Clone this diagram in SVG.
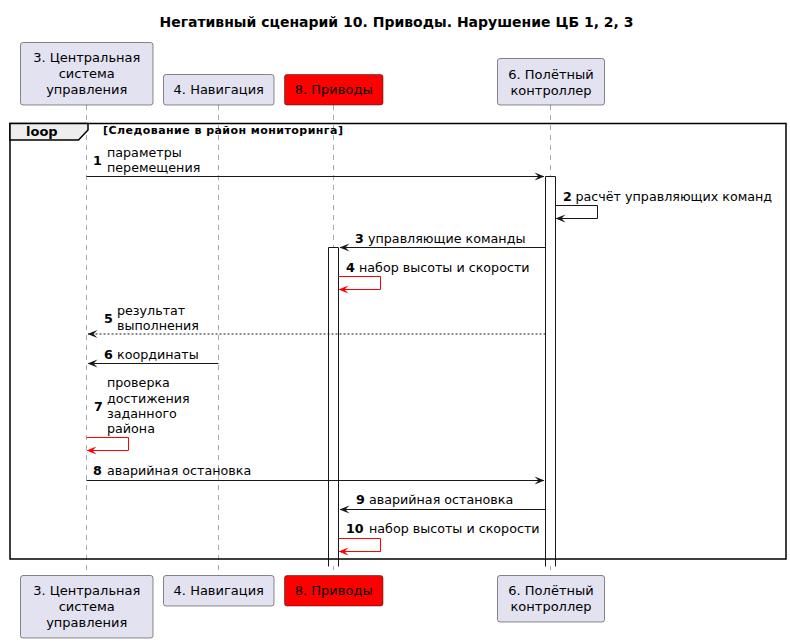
<svg xmlns="http://www.w3.org/2000/svg" width="790" height="643" viewBox="0 0 790 643">
<style>
text{font-family:"DejaVu Sans","Liberation Sans",sans-serif;font-size:13px;fill:#000}
.t{font-size:14px;font-weight:bold}
.n{font-weight:bold}
.ms{font-size:12.7px}
.c{text-anchor:middle}
.p{fill:#E2E2F0;stroke:#181818;stroke-width:0.5}
.r{fill:#FF0000;stroke:#181818;stroke-width:0.5}
.ll{stroke:#555;stroke-width:0.5;stroke-dasharray:5,5;fill:none}
.act{fill:#fff;stroke:none}
.al{stroke:#181818;stroke-width:1;fill:none}
.m{stroke:#181818;stroke-width:1;fill:none}
.mr{stroke:#FF0000;stroke-width:1;fill:none}
.d{stroke-dasharray:2,2}
.ah{fill:#181818}
.ahr{fill:#FF0000}
</style>
<rect width="790" height="643" fill="#fff"/>
<text class="t c" x="396.5" y="27">Негативный сценарий 10. Приводы. Нарушение ЦБ 1, 2, 3</text>

<g id="lifelines">
<line class="ll" x1="86.5" y1="105" x2="86.5" y2="576"/>
<line class="ll" x1="218.5" y1="105" x2="218.5" y2="576"/>
<line class="ll" x1="333.5" y1="105" x2="333.5" y2="576"/>
<line class="ll" x1="550.5" y1="105" x2="550.5" y2="576"/>
</g>

<g id="activations">
<rect class="act" x="545.5" y="176" width="10" height="390"/>
<polyline class="al" points="545.5,566.5 545.5,176.5 555.5,176.5 555.5,566.5"/>
<rect class="act" x="328.5" y="247" width="10" height="319"/>
<polyline class="al" points="328.5,566.5 328.5,247.5 338.5,247.5 338.5,566.5"/>
</g>

<g id="loop">
<rect x="10" y="123.5" width="776" height="435.5" fill="none" stroke="#000" stroke-width="1.5"/>
<polygon points="10,123.5 88,123.5 88,130 78.5,140 10,140" fill="#EEEEEE" stroke="#000" stroke-width="1.5"/>
<text class="n" x="26" y="136">loop</text>
<text class="n" x="103" y="134" style="font-size:11px;letter-spacing:0.45px">[Следование в район мониторинга]</text>
</g>

<g id="p1">
<rect class="p" x="20.5" y="42.5" width="132.5" height="62.5" rx="2.5"/>
<text class="c" x="86.75" y="62">3. Центральная</text>
<text class="c" x="86.75" y="78">система</text>
<text class="c" x="86.75" y="94">управления</text>
</g>
<g id="p2">
<rect class="p" x="163.5" y="74.5" width="110.5" height="30.5" rx="2.5"/>
<text class="c" x="218.75" y="94">4. Навигация</text>
</g>
<g id="p3">
<rect class="r" x="284.5" y="74.5" width="98.5" height="30.5" rx="2.5"/>
<text class="c" x="333.75" y="94">8. Приводы</text>
</g>
<g id="p4">
<rect class="p" x="497.5" y="58.5" width="107" height="46.5" rx="2.5"/>
<text class="c" x="551" y="79">6. Полётный</text>
<text class="c" x="551" y="95">контроллер</text>
</g>

<g id="p1b">
<rect class="p" x="20.5" y="575.5" width="132.5" height="62.5" rx="2.5"/>
<text class="c" x="86.75" y="595">3. Центральная</text>
<text class="c" x="86.75" y="611">система</text>
<text class="c" x="86.75" y="627">управления</text>
</g>
<g id="p2b">
<rect class="p" x="163.5" y="575.5" width="110.5" height="30.5" rx="2.5"/>
<text class="c" x="218.75" y="595">4. Навигация</text>
</g>
<g id="p3b">
<rect class="r" x="284.5" y="575.5" width="98.5" height="30.5" rx="2.5"/>
<text class="c" x="333.75" y="595">8. Приводы</text>
</g>
<g id="p4b">
<rect class="p" x="497.5" y="575.5" width="107" height="46.5" rx="2.5"/>
<text class="c" x="551" y="595">6. Полётный</text>
<text class="c" x="551" y="611">контроллер</text>
</g>

<g id="connectors">
<!-- 1 -->
<line class="m" x1="86.5" y1="176.5" x2="544" y2="176.5"/>
<polygon class="ah" points="544.5,176.5 534.5,172.5 538.5,176.5 534.5,180.5"/>
<text class="n ms" x="93" y="164.5">1</text>
<text class="ms" x="107" y="156.5">параметры</text>
<text class="ms" x="107" y="172">перемещения</text>
<!-- 2 -->
<polyline class="m" points="555.5,205.5 597.5,205.5 597.5,218.5 556.5,218.5"/>
<polygon class="ah" points="555.5,218.5 565.5,214.5 561.5,218.5 565.5,222.5"/>
<text class="n ms" x="563" y="201">2</text>
<text class="ms" x="575.5" y="201">расчёт управляющих команд</text>
<!-- 3 -->
<line class="m" x1="545.5" y1="247.5" x2="340" y2="247.5"/>
<polygon class="ah" points="339.5,247.5 349.5,243.5 345.5,247.5 349.5,251.5"/>
<text class="n ms" x="355" y="243">3</text>
<text class="ms" x="368" y="243">управляющие команды</text>
<!-- 4 -->
<polyline class="mr" points="338.5,276.5 380.5,276.5 380.5,289.5 339.5,289.5"/>
<polygon class="ahr" points="338.5,289.5 348.5,285.5 344.5,289.5 348.5,293.5"/>
<text class="n ms" x="346" y="272">4</text>
<text class="ms" x="359" y="272">набор высоты и скорости</text>
<!-- 5 -->
<line class="m d" x1="545.5" y1="334" x2="88" y2="334"/>
<polygon class="ah" points="87.5,334 97.5,330 93.5,334 97.5,338"/>
<text class="n ms" x="104" y="322.5">5</text>
<text class="ms" x="117" y="314.5">результат</text>
<text class="ms" x="117" y="330">выполнения</text>
<!-- 6 -->
<line class="m" x1="218.5" y1="363.5" x2="88" y2="363.5"/>
<polygon class="ah" points="87.5,363.5 97.5,359.5 93.5,363.5 97.5,367.5"/>
<text class="n ms" x="104" y="359">6</text>
<text class="ms" x="117" y="359">координаты</text>
<!-- 7 -->
<polyline class="mr" points="86.5,437.5 128.5,437.5 128.5,450.5 87.5,450.5"/>
<polygon class="ahr" points="86.5,450.5 96.5,446.5 92.5,450.5 96.5,454.5"/>
<text class="n ms" x="94" y="411">7</text>
<text class="ms" x="107" y="387">проверка</text>
<text class="ms" x="107" y="403">достижения</text>
<text class="ms" x="107" y="418">заданного</text>
<text class="ms" x="107" y="433">района</text>
<!-- 8 -->
<line class="m" x1="86.5" y1="480.5" x2="544" y2="480.5"/>
<polygon class="ah" points="544.5,480.5 534.5,476.5 538.5,480.5 534.5,484.5"/>
<text class="n ms" x="93" y="475">8</text>
<text class="ms" x="107" y="475">аварийная остановка</text>
<!-- 9 -->
<line class="m" x1="545.5" y1="509.5" x2="340" y2="509.5"/>
<polygon class="ah" points="339.5,509.5 349.5,505.5 345.5,509.5 349.5,513.5"/>
<text class="n ms" x="356" y="504">9</text>
<text class="ms" x="369" y="504">аварийная остановка</text>
<!-- 10 -->
<polyline class="mr" points="338.5,538.5 380.5,538.5 380.5,551.5 339.5,551.5"/>
<polygon class="ahr" points="338.5,551.5 348.5,547.5 344.5,551.5 348.5,555.5"/>
<text class="n ms" x="346" y="533">10</text>
<text class="ms" x="369" y="533">набор высоты и скорости</text>
</g>
</svg>
